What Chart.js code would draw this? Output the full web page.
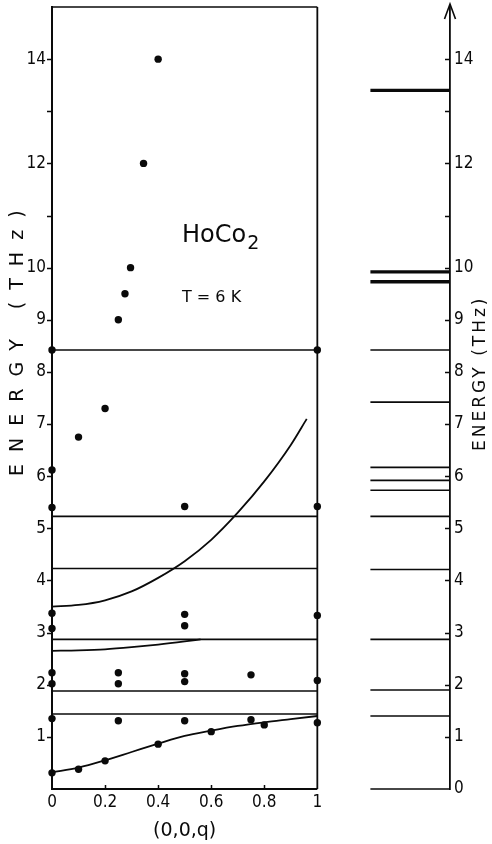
<!DOCTYPE html>
<html>
<head>
<meta charset="utf-8">
<script src="https://cdn.jsdelivr.net/npm/chart.js@4.4.1/dist/chart.umd.min.js"></script>
<style>
  html, body { margin: 0; padding: 0; background: #fff; }
  #wrap { width: 492px; height: 844px; position: relative; }
</style>
</head>
<body>
<div id="wrap"><canvas id="c"></canvas></div>
<script>
// ---------- data ----------
// measured points (q, E in THz)
const dotQ = [0.40, 0.345, 0.296, 0.275, 0.25,
              0, 1,
              0.2, 0.1, 0, 0, 0.5, 1,
              0, 0, 0.5, 0.5, 1,
              0, 0, 0.25, 0.25, 0.5, 0.5, 0.75, 1,
              0, 0.25, 0.5, 0.75, 1,
              0, 0.1, 0.2, 0.4, 0.6, 0.8];
const dotE = [14.0, 12.0, 10.0, 9.5, 9.0,
              8.42, 8.42,
              7.30, 6.75, 6.12, 5.40, 5.42, 5.42,
              3.37, 3.08, 3.35, 3.13, 3.33,
              2.23, 2.02, 2.23, 2.02, 2.21, 2.06, 2.19, 2.08,
              1.35, 1.31, 1.31, 1.33, 1.27,
              0.31, 0.38, 0.54, 0.86, 1.10, 1.23];

// calculated dispersion curves
const acousticQ = [0, 0.1, 0.2, 0.3, 0.4, 0.5, 0.6, 0.7, 0.8, 0.9, 1.0];
const acousticE = [0.32, 0.41, 0.55, 0.71, 0.87, 1.02, 1.12, 1.21, 1.28, 1.34, 1.40];
const midQ = [0, 0.1, 0.2, 0.3, 0.4, 0.5, 0.56];
const midE = [2.65, 2.66, 2.68, 2.72, 2.77, 2.83, 2.87];
const upperQ = [0, 0.1, 0.2, 0.3, 0.4, 0.5, 0.6, 0.7, 0.8, 0.9, 0.96];
const upperE = [3.50, 3.53, 3.62, 3.79, 4.05, 4.37, 4.78, 5.30, 5.90, 6.60, 7.10];

// flat (dispersionless) levels across the zone
const flatLevels = [8.42, 5.23, 4.23, 2.87, 1.88, 1.44];

// crystal-field level scheme (right panel)
const levelsThick = [13.40, 9.92, 9.73];
const levelsThin = [8.42, 7.42, 6.17, 5.92, 5.73, 5.23, 4.21, 2.87, 1.90, 1.40, 0];

// tick labels
const xTickLabels = [0, 0.2, 0.4, 0.6, 0.8, 1];
const leftTickLabels = [1, 2, 3, 4, 5, 6, 7, 8, 9, 10, 12, 14];
const rightTickLabels = [0, 1, 2, 3, 4, 5, 6, 7, 8, 9, 10, 12, 14];
const tickMarksY = [1, 2, 3, 4, 5, 6, 7, 8, 9, 10, 11, 12, 13, 14];
const tickMarksX = [0.2, 0.4, 0.6, 0.8];

// ---------- chart ----------
const INK = '#0a0a0a';
const numFont = { family: '"DejaVu Sans Condensed", "Liberation Sans Narrow", "DejaVu Sans", sans-serif', size: 17 };
const Q_MAX = 1.5, LEVEL_Q0 = 1.2;

const pts = (qs, es) => qs.map((q, i) => ({ x: q, y: es[i] }));
const lineDs = (data, w, extra) => Object.assign({
  data, showLine: true, borderColor: INK, borderWidth: w, pointRadius: 0,
  pointHoverRadius: 0, fill: false, clip: false, order: 2
}, extra || {});

const datasets = [];
// box of the dispersion panel
datasets.push(lineDs([{ x: 0, y: 15 }, { x: 1, y: 15 }], 1.6));
datasets.push(lineDs([{ x: 1, y: 0 }, { x: 1, y: 15 }], 1.8));
datasets.push(lineDs([{ x: 0, y: 0 }, { x: 1, y: 0 }], 1.8));
flatLevels.forEach(e => datasets.push(lineDs([{ x: 0, y: e }, { x: 1, y: e }], 1.6)));
[[acousticQ, acousticE], [midQ, midE], [upperQ, upperE]].forEach(([q, e]) =>
  datasets.push(lineDs(pts(q, e), 1.8, { tension: 0.4, cubicInterpolationMode: 'monotone' })));
levelsThin.forEach(e => datasets.push(lineDs([{ x: LEVEL_Q0, y: e }, { x: Q_MAX, y: e }], 1.6)));
levelsThick.forEach(e => datasets.push(lineDs([{ x: LEVEL_Q0, y: e }, { x: Q_MAX, y: e }], 3.4)));
datasets.push({
  data: pts(dotQ, dotE), showLine: false, pointRadius: 3.7, pointHoverRadius: 3.7,
  pointBackgroundColor: INK, pointBorderWidth: 0, clip: false, order: 1
});

function drawSpaced(ctx, text, x, y, spacing) {
  if ('letterSpacing' in ctx) {
    ctx.letterSpacing = spacing + 'px';
    ctx.fillText(text, x, y);
    ctx.letterSpacing = '0px';
  } else {
    let cx = x;
    for (const ch of text) { ctx.fillText(ch, cx, y); cx += ctx.measureText(ch).width + spacing; }
  }
}

const deco = {
  id: 'deco',
  afterDraw(chart) {
    const ctx = chart.ctx;
    const xs = chart.scales.x, ys = chart.scales.y;
    ctx.save();
    ctx.strokeStyle = INK; ctx.fillStyle = INK; ctx.lineWidth = 1.5;
    // tick marks
    ctx.beginPath();
    const xl = xs.getPixelForValue(0), xr = xs.getPixelForValue(Q_MAX);
    tickMarksY.forEach(v => {
      const py = Math.round(ys.getPixelForValue(v)) + 0.5;
      ctx.moveTo(xl - 5, py); ctx.lineTo(xl, py);
      ctx.moveTo(xr - 5, py); ctx.lineTo(xr, py);
    });
    const yb = ys.getPixelForValue(0);
    tickMarksX.forEach(v => {
      const px = Math.round(xs.getPixelForValue(v)) + 0.5;
      ctx.moveTo(px, yb); ctx.lineTo(px, yb - 4);
    });
    ctx.stroke();
    // arrow on the right energy axis
    const yt = ys.getPixelForValue(15);
    ctx.beginPath();
    ctx.lineWidth = 1.6;
    ctx.moveTo(xr, yt); ctx.lineTo(xr, yt - 3);
    ctx.moveTo(xr - 5.5, yt + 12); ctx.lineTo(xr, yt - 3); ctx.lineTo(xr + 5.5, yt + 12);
    ctx.stroke();

    // annotations
    ctx.textBaseline = 'alphabetic'; ctx.textAlign = 'left';
    const ax = xs.getPixelForValue(0.49);
    ctx.font = '24px "DejaVu Sans", sans-serif';
    ctx.fillText('HoCo', ax, ys.getPixelForValue(10.49));
    const w = ctx.measureText('HoCo').width;
    ctx.font = '19px "DejaVu Sans", sans-serif';
    ctx.fillText('2', ax + w + 1, ys.getPixelForValue(10.36));
    ctx.font = '16px "DejaVu Sans", sans-serif';
    ctx.fillText('T = 6 K', ax, ys.getPixelForValue(9.34));

    // x-axis title
    ctx.font = '19px "DejaVu Sans", sans-serif';
    ctx.textAlign = 'center'; ctx.textBaseline = 'middle';
    ctx.fillText('(0,0,q)', xs.getPixelForValue(0.5), yb + 42);

    // y-axis titles (rotated, reading upward)
    ctx.textAlign = 'left'; ctx.textBaseline = 'middle';
    ctx.font = '19px "DejaVu Sans", sans-serif';
    ctx.save();
    ctx.translate(18, 476); ctx.rotate(-Math.PI / 2);
    drawSpaced(ctx, 'ENERGY (THz)', 0, 0, 12);
    ctx.restore();
    ctx.font = '17px "DejaVu Sans", sans-serif';
    ctx.save();
    ctx.translate(481, 451); ctx.rotate(-Math.PI / 2);
    drawSpaced(ctx, 'ENERGY (THz)', 0, 0, 3);
    ctx.restore();
    ctx.restore();
  }
};

new Chart(document.getElementById('c'), {
  type: 'scatter',
  data: { datasets },
  options: {
    responsive: true, maintainAspectRatio: false, animation: false,
    devicePixelRatio: 1,
    layout: { padding: { top: 7, left: 0, right: 0, bottom: 0 } },
    plugins: { legend: { display: false }, tooltip: { enabled: false } },
    events: [],
    scales: {
      x: {
        type: 'linear', min: 0, max: Q_MAX,
        grid: { display: false, drawTicks: false },
        border: { display: false },
        ticks: {
          stepSize: 0.2, autoSkip: false, maxRotation: 0, padding: 3,
          color: INK, font: numFont,
          callback: v => {
            const r = Math.round(v * 10) / 10;
            if (!xTickLabels.includes(r)) return '';
            return (r === 0 || r === 1) ? String(r) : r.toFixed(1);
          }
        },
        afterFit: s => { s.height = 55; s.paddingLeft = 0; s.paddingRight = 0; }
      },
      y: {
        type: 'linear', position: 'left', min: 0, max: 15,
        grid: { display: false, drawTicks: false },
        border: { display: true, color: INK, width: 2 },
        ticks: {
          stepSize: 1, autoSkip: false, padding: 6, color: INK, font: numFont,
          callback: v => leftTickLabels.includes(v) ? String(v) : ''
        },
        afterFit: s => { s.width = 52; s.paddingTop = 0; s.paddingBottom = 0; }
      },
      y2: {
        type: 'linear', position: 'right', min: 0, max: 15,
        grid: { display: false, drawTicks: false },
        border: { display: true, color: INK, width: 1.8 },
        ticks: {
          stepSize: 1, autoSkip: false, padding: 4, color: INK, font: numFont,
          callback: v => rightTickLabels.includes(v) ? String(v) : ''
        },
        afterFit: s => { s.width = 42; s.paddingTop = 0; s.paddingBottom = 0; }
      }
    }
  },
  plugins: [deco]
});
</script>
</body>
</html>
